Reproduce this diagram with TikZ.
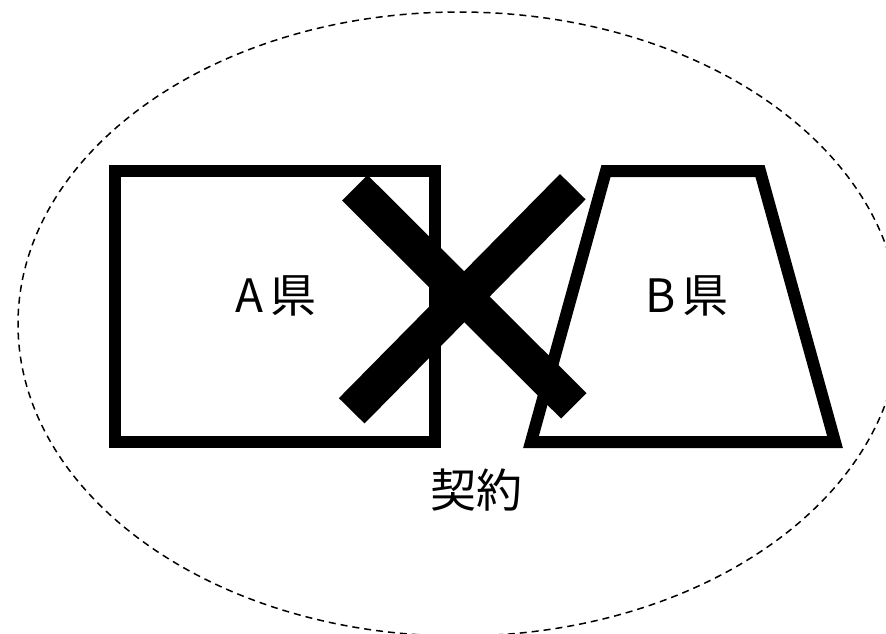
\documentclass[tikz,border=0pt]{standalone}
\usepackage{fontspec}
\setmainfont{Noto Sans CJK JP}
\begin{document}
\begin{tikzpicture}[x=1pt,y=-1pt,
  outline/.style={draw=black,line width=12pt,line join=miter},
  bar/.style={draw=black,line width=36pt,line cap=butt},
  lbl/.style={font=\fontsize{46}{54}\selectfont,inner sep=0pt},
  region/.style={draw=black,line width=1.5pt,dash pattern=on 7pt off 5pt}]
\useasboundingbox (0,0) rectangle (886,633);
\draw[region] (459,324) ellipse [x radius=441, y radius=312];
\draw[outline] (115,171) rectangle (435,442);
\draw[outline] (606,171) -- (760,171) -- (835,442) -- (531,442) -- cycle;
\coordinate (x1a) at (354.8,187.8);
\coordinate (x1b) at (573.8,405.8);
\coordinate (x2a) at (351.7,410.8);
\coordinate (x2b) at (572.8,186.7);
\draw[bar] (x1a) -- (x1b);
\draw[bar] (x2a) -- (x2b);
\node[lbl] (a) at (276,296) {A\hspace{7pt}県};
\node[lbl] (b) at (687,296) {B\hspace{7pt}県};
\node[lbl] (c) at (476,490) {契約};
\end{tikzpicture}
\end{document}
